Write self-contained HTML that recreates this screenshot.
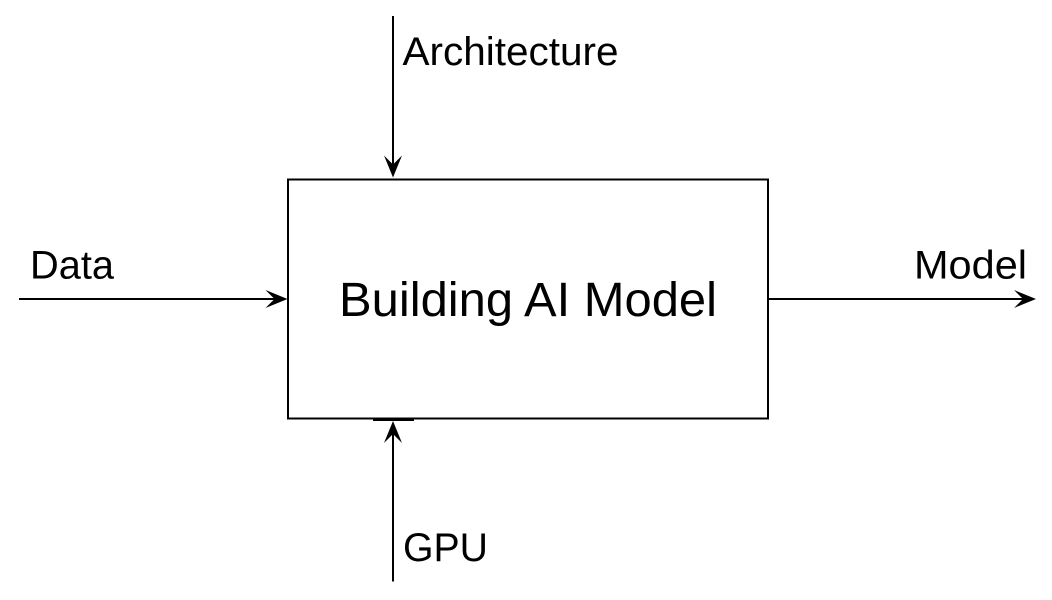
<!DOCTYPE html>
<html>
<head>
<meta charset="utf-8">
<style>
html,body{margin:0;padding:0;background:#fff;width:1052px;height:600px;overflow:hidden}
svg{display:block}
text{font-family:"Liberation Sans",Arial,sans-serif;fill:#000}
</style>
</head>
<body>
<svg width="1052" height="600" viewBox="0 0 1052 600" xmlns="http://www.w3.org/2000/svg">
<rect width="1052" height="600" fill="#fff"/>
<rect x="288" y="179.500" width="480" height="239" fill="#fff" stroke="#000" stroke-width="2"/>
<path d="M373 420H414" stroke="#000" stroke-width="2" fill="none"/>
<path d="M393 16V166" stroke="#000" stroke-width="2" fill="none"/>
<path d="M393 177.500L384 155.500L393 164.500L402 155.500Z" fill="#000"/>
<path d="M393 581.500V433" stroke="#000" stroke-width="2" fill="none"/>
<path d="M393 421L402 443L393 434L384 443Z" fill="#000"/>
<path d="M19 299H276" stroke="#000" stroke-width="2" fill="none"/>
<path d="M287.500 299L265.500 290L274.500 299L265.500 308Z" fill="#000"/>
<path d="M769 299H1023" stroke="#000" stroke-width="2" fill="none"/>
<path d="M1036 299L1014 290L1023 299L1014 308Z" fill="#000"/>
<text x="339" y="316" font-size="48" textLength="378" lengthAdjust="spacingAndGlyphs">Building AI Model</text>
<text x="402.500" y="65" font-size="40" textLength="216" lengthAdjust="spacingAndGlyphs">Architecture</text>
<text x="30" y="278.500" font-size="40" textLength="84" lengthAdjust="spacingAndGlyphs">Data</text>
<text x="914" y="278.500" font-size="40" textLength="113" lengthAdjust="spacingAndGlyphs">Model</text>
<text x="403" y="561" font-size="40" textLength="85" lengthAdjust="spacingAndGlyphs">GPU</text>
</svg>
</body>
</html>
